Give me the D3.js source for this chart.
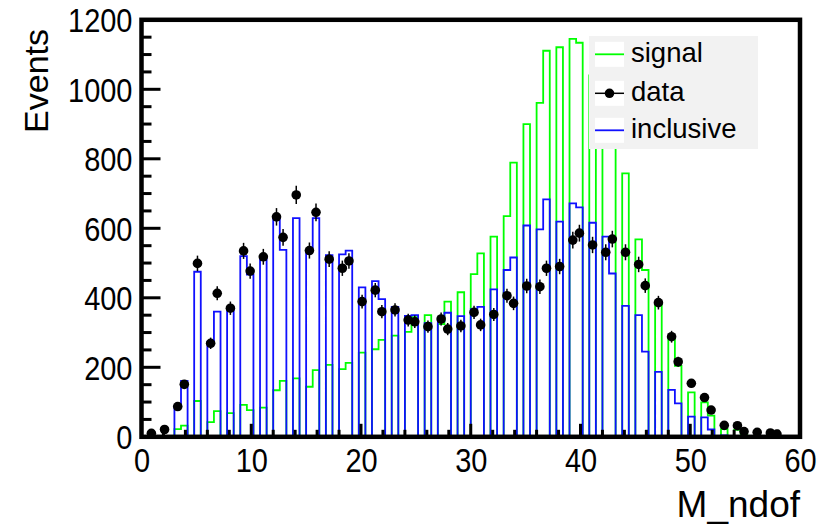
<!DOCTYPE html>
<html>
<head>
<meta charset="utf-8">
<script src="https://cdn.jsdelivr.net/npm/d3@7"></script>
<style>
  html, body { margin: 0; padding: 0; background: #ffffff; }
  svg { display: block; }
  text { font-family: "Liberation Sans", Arial, Helvetica, sans-serif; fill: #000; }
</style>
</head>
<body>
<svg id="chart" width="821" height="526"></svg>
<script>
// Number of degrees of freedom (integer values) filled into a 100-bin histogram on [0, 60]
const ndof = [
   0,  1,  2,  3,  4,  5,  6,  7,  8,  9,
  10, 11, 12, 13, 14, 15, 16, 17, 18, 19,
  20, 21, 22, 23, 24, 25, 26, 27, 28, 29,
  30, 31, 32, 33, 34, 35, 36, 37, 38, 39,
  40, 41, 42, 43, 44, 45, 46, 47, 48, 49,
  50, 51, 52, 53, 54, 55, 56, 57, 58, 59
];

// Events per ndof value
const dataCounts = [
    0,  10,  21,  87, 151, 499, 269, 413, 370, 535,
  477, 518, 633, 574, 696, 536, 646, 511, 485, 506,
  389, 422, 360, 365, 336, 331, 317, 339, 310, 319,
  358, 322, 352, 406, 384, 434, 432, 485, 490, 566,
  586, 552, 531, 569, 531, 496, 435, 386, 288, 216,
  154, 113,  77,  33,  32,  15,  13,  11,   8,   0
];

const inclusiveCounts = [
    0,   0,   0,  88, 161, 475, 274, 360, 370, 520,
  467, 518, 628, 538, 629, 536, 629, 523, 525, 536,
  430, 448, 396, 374, 348, 350, 327, 333, 357, 347,
  367, 374, 424, 480, 516, 608, 597, 683, 619, 672,
  660, 616, 576, 470, 377, 350, 245, 187, 135,  96,
   58,  56,  21,   4,   2,   0,   0,   0,   0,   0
];

const signalCounts = [
    0,   0,   0,  22,  32, 103,  42,  74,  68,  92,
   77,  84, 134, 161, 168, 144, 192, 207, 195, 213,
  242, 252, 279, 291, 302, 344, 350, 324, 389, 416,
  468, 528, 576, 635, 789, 900, 961,1111,1121,1145,
 1134,1040, 960, 880, 758, 568, 480, 380, 288, 204,
  128,  99,  61,  22,  20,   5,   0,   0,   0,   0
];

const xTicks = [0, 10, 20, 30, 40, 50, 60];
const yTicks = [0, 200, 400, 600, 800, 1000, 1200];
const legendLabels = ["signal", "data", "inclusive"];

// Histogram binning
const nBins = 100, xMin = 0, xMax = 60;
const binWidth = (xMax - xMin) / nBins;
const binOf = v => Math.floor(nBins * (v - xMin) / (xMax - xMin));

function fillBins(values) {
  const bins = new Array(nBins).fill(0);
  ndof.forEach((v, i) => { bins[binOf(v)] += values[i]; });
  return bins;
}

const sigBins = fillBins(signalCounts);
const incBins = fillBins(inclusiveCounts);
const datBins = fillBins(dataCounts);

// Layout
const frame = { left: 141.5, right: 800, top: 19.8, bottom: 436.8 };

const svg = d3.select("#chart");

const x = d3.scaleLinear().domain([xMin, xMax]).range([frame.left, frame.right]);
const y = d3.scaleLinear().domain([0, 1200]).range([frame.bottom, frame.top]);

const plot = svg.append("g");

// Step outline of a binned histogram
function stepPath(bins) {
  const pts = bins.map((c, i) => [xMin + i * binWidth, c]);
  pts.push([xMax, bins[nBins - 1]]);
  const line = d3.line()
    .x(d => x(d[0]))
    .y(d => y(d[1]))
    .curve(d3.curveStepAfter);
  return line([[xMin, 0], ...pts, [xMax, 0]]);
}

const signalColor = "#00ff00";
const inclusiveColor = "#1010ff";

plot.append("path")
  .attr("d", stepPath(sigBins))
  .attr("fill", "none")
  .attr("stroke", signalColor)
  .attr("stroke-width", 1.8);

plot.append("path")
  .attr("d", stepPath(incBins))
  .attr("fill", "none")
  .attr("stroke", inclusiveColor)
  .attr("stroke-width", 1.8);

// Data points with statistical error bars
const pts = datBins
  .map((c, i) => ({ c, xc: xMin + (i + 0.5) * binWidth }))
  .filter(d => d.c > 0);

const dataG = plot.append("g");
dataG.selectAll("line.ey").data(pts).join("line")
  .attr("class", "ey")
  .attr("x1", d => x(d.xc)).attr("x2", d => x(d.xc))
  .attr("y1", d => y(d.c - Math.sqrt(d.c))).attr("y2", d => y(d.c + Math.sqrt(d.c)))
  .attr("stroke", "#000").attr("stroke-width", 1.5);
dataG.selectAll("line.ex").data(pts).join("line")
  .attr("class", "ex")
  .attr("x1", d => x(d.xc - binWidth / 2)).attr("x2", d => x(d.xc + binWidth / 2))
  .attr("y1", d => y(d.c)).attr("y2", d => y(d.c))
  .attr("stroke", "#000").attr("stroke-width", 1.5);
dataG.selectAll("circle").data(pts).join("circle")
  .attr("cx", d => x(d.xc)).attr("cy", d => y(d.c))
  .attr("r", 4.8).attr("fill", "#000");

// Axis labels (ticks are drawn inside the frame separately)
const xAxis = d3.axisBottom(x).tickValues(xTicks).tickSize(0).tickFormat(d3.format("d"));
const yAxis = d3.axisLeft(y).tickValues(yTicks).tickSize(0).tickFormat(d3.format("d"));

const axX = svg.append("g").attr("transform", `translate(0,${frame.bottom})`).call(xAxis);
axX.select(".domain").remove();
axX.selectAll(".tick text")
  .attr("dy", null).attr("y", 0)
  .attr("transform", "translate(0,35) scale(1,1.12)")
  .style("font-size", "29px");

const axY = svg.append("g").attr("transform", `translate(${frame.left},0)`).call(yAxis);
axY.select(".domain").remove();
axY.selectAll(".tick text")
  .attr("x", 0).attr("dy", "0.36em")
  .attr("transform", "translate(-9,0) scale(1,1.12)")
  .style("font-size", "29px");

// Tick marks
const xMinor = d3.range(xMin, xMax + 0.001, 2);
svg.append("g").selectAll("line").data(xMinor).join("line")
  .attr("x1", d => x(d)).attr("x2", d => x(d))
  .attr("y1", frame.bottom)
  .attr("y2", d => frame.bottom - (d % 10 === 0 ? 13 : 7))
  .attr("stroke", "#000").attr("stroke-width", 3);

const yMinor = d3.range(0, 1200.001, 50);
svg.append("g").selectAll("line").data(yMinor).join("line")
  .attr("y1", d => y(d)).attr("y2", d => y(d))
  .attr("x1", frame.left)
  .attr("x2", d => frame.left + (d % 200 === 0 ? 19 : 10))
  .attr("stroke", "#000").attr("stroke-width", 3);

// Frame
svg.append("rect")
  .attr("x", frame.left).attr("y", frame.top)
  .attr("width", frame.right - frame.left).attr("height", frame.bottom - frame.top)
  .attr("fill", "none").attr("stroke", "#000").attr("stroke-width", 4.5);

// Axis titles
svg.append("text")
  .attr("transform", `translate(48,29) rotate(-90)`)
  .attr("text-anchor", "end")
  .style("font-size", "34px")
  .text("Events");

svg.append("text")
  .attr("x", 800).attr("y", 517)
  .attr("text-anchor", "end")
  .style("font-size", "37px")
  .text("M_ndof");

// Legend
const leg = svg.append("g");
leg.append("rect")
  .attr("x", 589).attr("y", 36).attr("width", 169).attr("height", 113)
  .attr("fill", "#f2f2f2");

const rowY = [54.3, 93.3, 130.3];
const legColors = [signalColor, "#000", inclusiveColor];
legendLabels.forEach((lab, i) => {
  const g = leg.append("g");
  g.append("rect")
    .attr("x", 595).attr("y", rowY[i] - 12.5).attr("width", 29).attr("height", 25)
    .attr("fill", "#ffffff");
  g.append("line")
    .attr("x1", 595).attr("x2", 624).attr("y1", rowY[i]).attr("y2", rowY[i])
    .attr("stroke", legColors[i]).attr("stroke-width", i === 1 ? 1.5 : 1.8);
  if (lab === "data") {
    g.append("circle").attr("cx", 609.5).attr("cy", rowY[i]).attr("r", 4.8).attr("fill", "#000");
  }
  g.append("text")
    .attr("x", 631).attr("y", rowY[i] + 8)
    .style("font-size", "27.5px")
    .text(lab);
});
</script>
</body>
</html>
